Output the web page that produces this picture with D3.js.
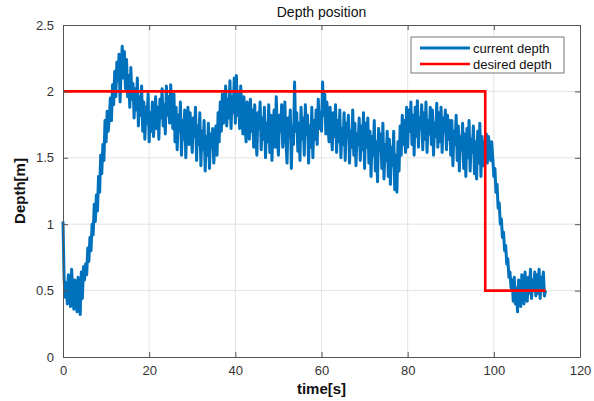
<!DOCTYPE html>
<html>
<head>
<meta charset="utf-8">
<script src="https://cdn.jsdelivr.net/npm/d3@7"></script>
<style>
  body { margin: 0; background: #fff; }
  svg { font-family: "Liberation Sans", Arial, sans-serif; }
  .tick text { fill: #333; font-size: 13px; }
</style>
</head>
<body>
<div id="chart"></div>
<script>
/*
** Data
*/
var timeStep = 0.25  // sample spacing of the recorded depth [s]
  , currentDepth = [
      // 0 - 10 s
      1.02, 0.60, 0.45, 0.56, 0.40, 0.62, 0.48, 0.38, 0.66, 0.50, 0.36, 0.58, 0.42, 0.34, 0.60, 0.40, 0.32, 0.64, 0.44, 0.68
    , 0.58, 0.70, 0.62, 0.82, 0.72, 0.90, 0.80, 1.00, 0.92, 1.15, 1.02, 1.22, 1.10, 1.36, 1.24, 1.52, 1.38, 1.60, 1.48, 1.78
      // 10 - 20 s
    , 1.62, 1.85, 1.70, 1.80, 1.95, 1.78, 2.05, 1.90, 2.15, 1.96, 2.22, 2.08, 2.28, 1.92, 2.18, 2.34, 2.10, 2.30, 2.02, 2.24
    , 1.96, 2.12, 1.88, 2.18, 1.94, 2.06, 1.80, 2.02, 1.86, 2.10, 1.74, 1.96, 1.82, 2.04, 1.70, 1.92, 1.64, 1.88, 1.76, 1.98
      // 20 - 30 s
    , 1.62, 1.84, 1.70, 1.92, 1.66, 1.78, 1.96, 1.72, 1.88, 1.64, 1.94, 1.80, 2.02, 1.74, 1.90, 1.68, 2.04, 1.82, 1.96, 1.76
    , 2.05, 1.86, 1.72, 1.98, 1.62, 1.88, 1.56, 1.82, 1.70, 1.92, 1.52, 1.78, 1.64, 1.86, 1.50, 1.74, 1.88, 1.60, 1.84, 1.68
      // 30 - 40 s
    , 1.54, 1.80, 1.66, 1.88, 1.48, 1.74, 1.60, 1.84, 1.44, 1.70, 1.56, 1.78, 1.40, 1.66, 1.52, 1.76, 1.42, 1.68, 1.58, 1.72
    , 1.46, 1.62, 1.74, 1.52, 1.84, 1.62, 1.92, 1.70, 1.98, 1.76, 1.88, 2.04, 1.74, 1.94, 1.80, 2.08, 1.72, 1.96, 1.84, 2.10
      // 40 - 50 s
    , 1.76, 2.12, 1.82, 1.98, 1.72, 2.04, 1.88, 1.68, 1.96, 1.74, 1.62, 1.92, 1.80, 1.64, 1.94, 1.70, 1.86, 1.58, 1.90, 1.66
    , 1.52, 1.84, 1.72, 1.92, 1.56, 1.80, 1.64, 1.88, 1.50, 1.76, 1.62, 1.90, 1.54, 1.82, 1.48, 1.74, 1.86, 1.58, 1.96, 1.66
      // 50 - 60 s
    , 1.52, 1.82, 1.70, 1.90, 1.58, 1.76, 1.92, 1.62, 1.46, 1.80, 1.66, 1.86, 1.42, 1.74, 1.60, 2.07, 1.70, 1.84, 1.55, 1.76
    , 1.48, 1.88, 1.64, 1.80, 1.52, 1.90, 1.68, 1.82, 1.46, 1.74, 1.58, 1.88, 1.50, 1.78, 1.64, 1.86, 1.60, 1.94, 1.72, 1.84
      // 60 - 70 s
    , 1.70, 2.07, 1.82, 1.98, 1.68, 1.92, 1.76, 1.62, 1.88, 1.70, 1.56, 1.84, 1.66, 1.90, 1.54, 1.78, 1.62, 1.86, 1.50, 1.72
    , 1.60, 1.84, 1.48, 1.76, 1.66, 1.82, 1.46, 1.70, 1.58, 1.86, 1.52, 1.76, 1.44, 1.68, 1.60, 1.80, 1.48, 1.74, 1.56, 1.84
      // 70 - 80 s
    , 1.42, 1.76, 1.58, 1.80, 1.46, 1.70, 1.36, 1.66, 1.52, 1.78, 1.40, 1.62, 1.32, 1.72, 1.56, 1.68, 1.42, 1.76, 1.34, 1.60
    , 1.48, 1.70, 1.36, 1.64, 1.30, 1.58, 1.44, 1.70, 1.26, 1.52, 1.24, 1.62, 1.40, 1.74, 1.52, 1.82, 1.60, 1.78, 1.54, 1.88
      // 80 - 90 s
    , 1.58, 1.86, 1.70, 1.92, 1.60, 1.82, 1.52, 1.88, 1.66, 1.93, 1.58, 1.80, 1.72, 1.90, 1.56, 1.84, 1.64, 1.92, 1.54, 1.78
    , 1.68, 1.88, 1.60, 1.86, 1.52, 1.76, 1.66, 1.91, 1.58, 1.84, 1.62, 1.88, 1.54, 1.80, 1.70, 1.86, 1.56, 1.82, 1.64, 1.78
      // 90 - 100 s
    , 1.52, 1.78, 1.44, 1.70, 1.60, 1.82, 1.48, 1.74, 1.40, 1.66, 1.56, 1.76, 1.42, 1.68, 1.36, 1.72, 1.50, 1.78, 1.40, 1.64
    , 1.54, 1.74, 1.38, 1.62, 1.34, 1.70, 1.46, 1.76, 1.36, 1.66, 1.44, 1.62, 1.50, 1.68, 1.46, 1.66, 1.58, 1.48, 1.62, 1.50
      // 100 - 110 s
    , 1.36, 1.42, 1.24, 1.30, 1.12, 1.16, 1.00, 1.04, 0.90, 0.94, 0.80, 0.84, 0.70, 0.74, 0.60, 0.64, 0.52, 0.58, 0.42, 0.60
    , 0.40, 0.52, 0.34, 0.58, 0.44, 0.38, 0.62, 0.46, 0.40, 0.64, 0.50, 0.42, 0.60, 0.48, 0.66, 0.44, 0.58, 0.50, 0.64, 0.46
      // 110 - 112 s
    , 0.62, 0.48, 0.66, 0.44, 0.60, 0.52, 0.64, 0.46, 0.50
    ]
  , desiredTime  = [0, 98, 98, 112]
  , desiredDepth = [2, 2, 0.5, 0.5]
  , xTicks = [0, 20, 40, 60, 80, 100, 120]
  , yTicks = [0, 0.5, 1, 1.5, 2, 2.5]
  , legendLabels = ["current depth", "desired depth"]
;

/*
** Layout
*/
var width = 594
  , height = 401
  , margin = { top: 25, right: 14, bottom: 44, left: 63 }
  , innerW = width - margin.left - margin.right
  , innerH = height - margin.top - margin.bottom
  , colors = { current: "#0072BD", desired: "#FF0000" }
  , x = d3.scaleLinear().domain([0, 120]).range([0, innerW])
  , y = d3.scaleLinear().domain([0, 2.5]).range([innerH, 0])
;

var svg = d3.select("#chart").append("svg")
    .attr("width", width)
    .attr("height", height)
;
var g = svg.append("g")
    .attr("transform", "translate(" + margin.left + "," + margin.top + ")")
;

// grid lines
var grid = g.append("g").attr("class", "grid");
grid.selectAll("line.gx")
    .data(xTicks.slice(1, -1))
  .enter().append("line")
    .attr("class", "gx")
    .attr("x1", x).attr("x2", x)
    .attr("y1", 0).attr("y2", innerH)
    .attr("stroke", "#e3e3e3")
;
grid.selectAll("line.gy")
    .data(yTicks.slice(1, -1))
  .enter().append("line")
    .attr("class", "gy")
    .attr("y1", y).attr("y2", y)
    .attr("x1", 0).attr("x2", innerW)
    .attr("stroke", "#e3e3e3")
;

/*
** Series
*/
var line = d3.line()
    .x(function(d) { return x(d[0]); })
    .y(function(d) { return y(d[1]); })
;
var current = currentDepth.map(function(v, i) { return [i * timeStep, v]; })
  , desired = desiredTime.map(function(t, i) { return [t, desiredDepth[i]]; })
;
g.append("path")
    .datum(current)
    .attr("fill", "none")
    .attr("stroke", colors.current)
    .attr("stroke-width", 3)
    .attr("stroke-linejoin", "round")
    .attr("d", line)
;
g.append("path")
    .datum(desired)
    .attr("fill", "none")
    .attr("stroke", colors.desired)
    .attr("stroke-width", 2.6)
    .attr("d", line)
;

/*
** Axes (box with inward ticks on all sides)
*/
var axisColor = "#555";
function styleAxis(sel) {
    sel.select(".domain").attr("stroke", axisColor);
    sel.selectAll(".tick line").attr("stroke", axisColor);
}
g.append("g")
    .attr("transform", "translate(0," + innerH + ")")
    .call(d3.axisBottom(x).tickValues(xTicks).tickSizeInner(-5).tickSizeOuter(0).tickPadding(9))
    .call(styleAxis)
;
g.append("g")
    .call(d3.axisLeft(y).tickValues(yTicks).tickFormat(d3.format("")).tickSizeInner(-5).tickSizeOuter(0).tickPadding(9))
    .call(styleAxis)
;
g.append("g")
    .call(d3.axisTop(x).tickValues(xTicks).tickSizeInner(-5).tickSizeOuter(0).tickFormat(""))
    .call(styleAxis)
;
g.append("g")
    .attr("transform", "translate(" + innerW + ",0)")
    .call(d3.axisRight(y).tickValues(yTicks).tickSizeInner(-5).tickSizeOuter(0).tickFormat(""))
    .call(styleAxis)
;

// labels
svg.append("text")
    .attr("x", margin.left + innerW / 2)
    .attr("y", 17)
    .attr("text-anchor", "middle")
    .attr("font-size", 14)
    .attr("fill", "#111")
    .text("Depth position")
;
svg.append("text")
    .attr("x", margin.left + innerW / 2)
    .attr("y", 394)
    .attr("text-anchor", "middle")
    .attr("font-size", 15)
    .attr("font-weight", "bold")
    .attr("fill", "#111")
    .text("time[s]")
;
svg.append("text")
    .attr("transform", "translate(25," + (margin.top + innerH / 2) + ") rotate(-90)")
    .attr("text-anchor", "middle")
    .attr("font-size", 15)
    .attr("font-weight", "bold")
    .attr("fill", "#111")
    .text("Depth[m]")
;

/*
** Legend
*/
var legend = svg.append("g").attr("transform", "translate(411,37)");
legend.append("rect")
    .attr("width", 153)
    .attr("height", 36)
    .attr("fill", "#fff")
    .attr("stroke", "#777")
;
legend.selectAll("g.item")
    .data(legendLabels)
  .enter().append("g")
    .attr("class", "item")
    .attr("transform", function(d, i) { return "translate(0," + (11 + i * 16) + ")"; })
    .each(function(d, i) {
        var self = d3.select(this);
        self.append("line")
            .attr("x1", 9).attr("x2", 59)
            .attr("stroke", i === 0 ? colors.current : colors.desired)
            .attr("stroke-width", i === 0 ? 3 : 2.6)
        ;
        self.append("text")
            .attr("x", 62)
            .attr("y", 5)
            .attr("font-size", 13)
            .attr("fill", "#111")
            .text(d)
        ;
      })
;
</script>
</body>
</html>
